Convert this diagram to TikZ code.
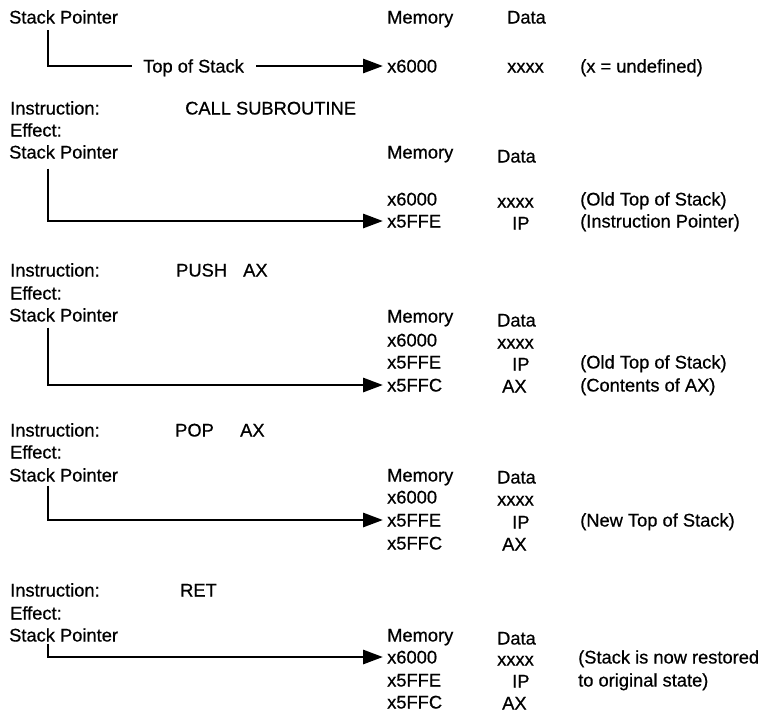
\documentclass[tikz,border=0pt]{standalone}
\usepackage{fontspec}
\setmainfont{Liberation Sans}[FakeBold=0.6]
\usetikzlibrary{arrows.meta}
\begin{document}
\begin{tikzpicture}[x=1pt,y=-1pt,
  txt/.style={font=\fontsize{18.3}{20}\selectfont, inner sep=0pt,
              text height=13pt, text depth=0pt, anchor=west},
  link/.style={line width=2.9pt, line join=miter},
  ptr/.style={link, -{Triangle[length=20pt,width=14pt]}}]
\useasboundingbox[fill=white] (0,0) rectangle (762,713);

% --- initial state ---
\node[txt] (sp1) at (9,17)   {Stack Pointer};
\node[txt] (mh1) at (387,17) {Memory};
\node[txt] (dh1) at (507,17) {Data};
\node[txt] (tos) at (143,66) {Top of Stack};
\node[txt] (a1)  at (387,66) {x6000};
\node[txt] (d1)  at (507,66) {xxxx};
\node[txt] (c1)  at (580,66) {(x = undefined)};
\draw[link] ([xshift=39pt]sp1.south west) ++(0,-6.5pt) |- ([xshift=-11pt]tos.west);
\draw[ptr] (tos.east) ++(12pt,0) -- ([xshift=-4pt]a1.west);

% --- CALL SUBROUTINE ---
\node[txt] (in2) at (10,108)  {Instruction:};
\node[txt] (op2) at (185,108) {CALL SUBROUTINE};
\node[txt] (ef2) at (10,130)  {Effect:};
\node[txt] (sp2) at (9,152)   {Stack Pointer};
\node[txt] (mh2) at (387,152) {Memory};
\node[txt] (dh2) at (497,156) {Data};
\node[txt] (a2)  at (387,199) {x6000};
\node[txt] (d2)  at (497,201) {xxxx};
\node[txt] (c2)  at (580,199) {(Old Top of Stack)};
\node[txt] (b2)  at (387,221) {x5FFE};
\node[txt] (e2)  at (512,223) {IP};
\node[txt] (f2)  at (580,221) {(Instruction Pointer)};
\draw[ptr] ([xshift=39pt]sp2.south west) ++(0,-10pt) |- ([xshift=-4pt]b2.west);

% --- PUSH AX ---
\node[txt] (in3) at (10,270)  {Instruction:};
\node[txt] (op3) at (176,270) {PUSH};
\node[txt] (ar3) at (243,270) {AX};
\node[txt] (ef3) at (10,293)  {Effect:};
\node[txt] (sp3) at (9,315)   {Stack Pointer};
\node[txt] (mh3) at (387,316) {Memory};
\node[txt] (dh3) at (497,320) {Data};
\node[txt] (a3)  at (387,340) {x6000};
\node[txt] (d3)  at (497,342) {xxxx};
\node[txt] (b3)  at (387,362) {x5FFE};
\node[txt] (e3)  at (512,364) {IP};
\node[txt] (c3)  at (580,362) {(Old Top of Stack)};
\node[txt] (g3)  at (387,385) {x5FFC};
\node[txt] (h3)  at (502,386) {AX};
\node[txt] (f3)  at (580,385) {(Contents of AX)};
\draw[ptr] ([xshift=39pt]sp3.south west) ++(0,-6pt) |- ([xshift=-4pt]g3.west);

% --- POP AX ---
\node[txt] (in4) at (10,430)  {Instruction:};
\node[txt] (op4) at (175,430) {POP};
\node[txt] (ar4) at (240,430) {AX};
\node[txt] (ef4) at (10,452)  {Effect:};
\node[txt] (sp4) at (9,475)   {Stack Pointer};
\node[txt] (mh4) at (387,475) {Memory};
\node[txt] (dh4) at (497,477) {Data};
\node[txt] (a4)  at (387,497) {x6000};
\node[txt] (d4)  at (497,499) {xxxx};
\node[txt] (b4)  at (387,520) {x5FFE};
\node[txt] (e4)  at (512,522) {IP};
\node[txt] (c4)  at (580,520) {(New Top of Stack)};
\node[txt] (g4)  at (387,543) {x5FFC};
\node[txt] (h4)  at (502,544) {AX};
\draw[ptr] ([xshift=39pt]sp4.south west) ++(0,-4pt) |- ([xshift=-4pt]b4.west);

% --- RET ---
\node[txt] (in5) at (10,590)  {Instruction:};
\node[txt] (op5) at (180,590) {RET};
\node[txt] (ef5) at (10,613)  {Effect:};
\node[txt] (sp5) at (9,635)   {Stack Pointer};
\node[txt] (mh5) at (387,635) {Memory};
\node[txt] (dh5) at (497,638) {Data};
\node[txt] (a5)  at (387,657) {x6000};
\node[txt] (d5)  at (497,659) {xxxx};
\node[txt] (c5)  at (578,657) {(Stack is now\hspace{5pt}restored};
\node[txt] (b5)  at (387,680) {x5FFE};
\node[txt] (e5)  at (512,681) {IP};
\node[txt] (f5)  at (578,680) {to original state)};
\node[txt] (g5)  at (387,702) {x5FFC};
\node[txt] (h5)  at (502,703) {AX};
\draw[ptr] ([xshift=39pt]sp5.south west) ++(0,-2pt) |- ([xshift=-4pt]a5.west);
\end{tikzpicture}
\end{document}
